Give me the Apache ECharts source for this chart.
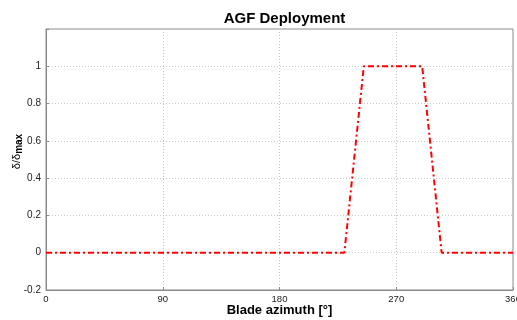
<!DOCTYPE html>
<html><head><meta charset="utf-8">
<script src="https://cdn.jsdelivr.net/npm/echarts@6/dist/echarts.min.js"></script>
<style>html,body{margin:0;padding:0;background:#fff}#c{width:517px;height:320px}</style>
</head><body><div id="c"></div>
<script>
const azimuth = [0, 230, 245, 290, 305, 360];
const deployment = [0, 0, 1, 1, 0, 0];
const xTicks = [0, 90, 180, 270, 360];
const yTicks = [-0.2, 0, 0.2, 0.4, 0.6, 0.8, 1, 1.2];

const chart = echarts.init(document.getElementById('c'), null, {renderer: 'canvas'});
const font = '"Liberation Sans", Arial, sans-serif';
chart.setOption({
  animation: false,
  backgroundColor: '#fff',
  title: {
    text: 'AGF Deployment', left: 279.5, top: 6, textAlign: 'center',
    textStyle: {fontFamily: font, fontSize: 15, fontWeight: 'bold', color: '#000'}
  },
  grid: {left: 46, right: 4, top: 29, bottom: 30, show: true, borderColor: '#8a8a8a', borderWidth: 1,
         containLabel: false, outerBoundsMode: 'none'},
  xAxis: {
    type: 'value', min: 0, max: 360, interval: 90,
    name: 'Blade azimuth [°]', nameLocation: 'middle', nameGap: 14, nameMoveOverlap: false,
    nameTextStyle: {fontFamily: font, fontSize: 13, fontWeight: 'bold', color: '#000', verticalAlign: 'top'},
    axisLine: {show: true, onZero: false, lineStyle: {color: '#8a8a8a'}},
    axisTick: {show: true, inside: true, length: 3, lineStyle: {color: '#8a8a8a'}},
    axisLabel: {fontFamily: font, fontSize: 9.5, color: '#222', margin: 4, showMaxLabel: true, hideOverlap: false},
    splitLine: {show: true, lineStyle: {color: '#c8c8c8', type: [1, 2]}}
  },
  yAxis: {
    type: 'value', min: -0.2, max: 1.2, interval: 0.2,
    name: '{a|δ/δ}{b|max}', nameLocation: 'middle', nameRotate: 90, nameGap: 22, nameMoveOverlap: false,
    nameTextStyle: {
      fontFamily: font, color: '#000', padding: [0, 0, 0, 16],
      rich: {
        a: {fontFamily: font, fontSize: 11, color: '#000'},
        b: {fontFamily: font, fontSize: 10, fontWeight: 'bold', color: '#000', verticalAlign: 'bottom', padding: [5, 0, 0, 0]}
      }
    },
    axisLine: {show: true, onZero: false, lineStyle: {color: '#8a8a8a'}},
    axisTick: {show: true, inside: true, length: 3, lineStyle: {color: '#8a8a8a'}},
    axisLabel: {
      fontFamily: font, fontSize: 10, color: '#222', margin: 5,
      formatter: v => (Math.abs(v - 1.2) < 1e-6 ? '' : String(Math.round(v * 10) / 10))
    },
    splitLine: {show: true, lineStyle: {color: '#c8c8c8', type: [1, 2]}}
  },
  series: [{
    type: 'line', data: azimuth.map((x, i) => [x, deployment[i]]),
    showSymbol: false, symbol: 'none',
    lineStyle: {color: '#ff0000', width: 2, type: [6, 3, 2, 3]}
  }]
});
</script></body></html>
